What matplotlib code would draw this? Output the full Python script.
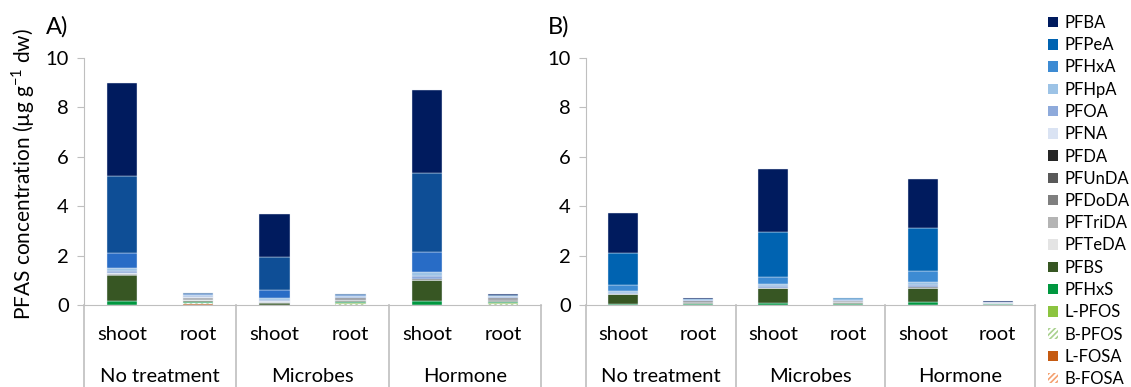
import matplotlib
matplotlib.use("Agg")
import matplotlib.pyplot as plt
import matplotlib.patches as mpatches
import numpy as np

plt.rcParams['font.family'] = ['Lato', 'DejaVu Sans']
plt.rcParams['mathtext.fontset'] = 'custom'
plt.rcParams['mathtext.rm'] = 'Lato'
plt.rcParams['hatch.linewidth'] = 1.2

# bar order: No treatment shoot/root, Microbes shoot/root, Hormone shoot/root
groups = ["No treatment", "Microbes", "Hormone"]
tissues = ["shoot", "root"]

# stacking order from bottom to top
compounds = ["B-FOSA", "L-FOSA", "B-PFOS", "L-PFOS", "PFHxS", "PFBS",
             "PFTeDA", "PFTriDA", "PFDoDA", "PFUnDA", "PFDA",
             "PFNA", "PFOA", "PFHpA", "PFHxA", "PFPeA", "PFBA"]

panel_a = {
    "PFBA":    [3.78, 0.03, 1.76, 0.03, 3.36, 0.03],
    "PFPeA":   [3.09, 0.04, 1.33, 0.04, 3.21, 0.04],
    "PFHxA":   [0.64, 0.04, 0.34, 0.03, 0.82, 0.03],
    "PFHpA":   [0.12, 0.03, 0.06, 0.03, 0.15, 0.03],
    "PFOA":    [0.08, 0.04, 0.06, 0.03, 0.12, 0.03],
    "PFNA":    [0.02, 0.02, 0.01, 0.02, 0.02, 0.02],
    "PFDA":    [0.01, 0.03, 0.01, 0.03, 0.01, 0.03],
    "PFUnDA":  [0.01, 0.03, 0.01, 0.03, 0.01, 0.03],
    "PFDoDA":  [0.01, 0.03, 0.01, 0.03, 0.01, 0.03],
    "PFTriDA": [0.01, 0.02, 0.01, 0.02, 0.01, 0.02],
    "PFTeDA":  [0.00, 0.01, 0.00, 0.01, 0.00, 0.01],
    "PFBS":    [1.07, 0.04, 0.08, 0.04, 0.85, 0.04],
    "PFHxS":   [0.14, 0.04, 0.02, 0.05, 0.14, 0.04],
    "L-PFOS":  [0.01, 0.03, 0.00, 0.03, 0.01, 0.03],
    "B-PFOS":  [0.00, 0.02, 0.00, 0.02, 0.00, 0.02],
    "L-FOSA":  [0.00, 0.03, 0.00, 0.01, 0.00, 0.01],
    "B-FOSA":  [0.00, 0.02, 0.00, 0.01, 0.00, 0.01],
}

panel_b = {
    "PFBA":    [1.62, 0.02, 2.53, 0.02, 1.99, 0.01],
    "PFPeA":   [1.32, 0.03, 1.84, 0.03, 1.73, 0.01],
    "PFHxA":   [0.23, 0.02, 0.29, 0.03, 0.44, 0.01],
    "PFHpA":   [0.06, 0.02, 0.08, 0.02, 0.12, 0.01],
    "PFOA":    [0.04, 0.02, 0.05, 0.02, 0.08, 0.01],
    "PFNA":    [0.01, 0.01, 0.01, 0.01, 0.03, 0.00],
    "PFDA":    [0.01, 0.02, 0.01, 0.02, 0.01, 0.01],
    "PFUnDA":  [0.00, 0.02, 0.01, 0.02, 0.01, 0.01],
    "PFDoDA":  [0.00, 0.02, 0.00, 0.02, 0.01, 0.01],
    "PFTriDA": [0.00, 0.01, 0.00, 0.02, 0.00, 0.01],
    "PFTeDA":  [0.00, 0.01, 0.00, 0.01, 0.00, 0.00],
    "PFBS":    [0.38, 0.03, 0.57, 0.03, 0.55, 0.02],
    "PFHxS":   [0.06, 0.03, 0.10, 0.03, 0.13, 0.03],
    "L-PFOS":  [0.00, 0.01, 0.00, 0.01, 0.00, 0.01],
    "B-PFOS":  [0.00, 0.01, 0.00, 0.01, 0.00, 0.00],
    "L-FOSA":  [0.00, 0.00, 0.00, 0.00, 0.00, 0.00],
    "B-FOSA":  [0.00, 0.00, 0.00, 0.00, 0.00, 0.00],
}

colors = {
    "PFBA": "#001b5e", "PFPeA": "#0063b1", "PFHxA": "#3d8bd3",
    "PFHpA": "#9dc3e6", "PFOA": "#8eaadb", "PFNA": "#dae3f3",
    "PFDA": "#262626", "PFUnDA": "#595959", "PFDoDA": "#7f7f7f",
    "PFTriDA": "#b4b4b4", "PFTeDA": "#e4e4e4", "PFBS": "#375623",
    "PFHxS": "#00973f", "L-PFOS": "#8cc440", "B-PFOS": "#a9d18e",
    "L-FOSA": "#c55a11", "B-FOSA": "#f4a070",
}
# panel A renders the two middle blues a bit darker
colors_a = dict(colors, PFPeA="#0e4e96", PFHxA="#286cc6")
hatched = {"B-PFOS", "B-FOSA"}

W, H = 1131, 387
fig = plt.figure(figsize=(W / 100, H / 100), dpi=100)

axis_col = "#bfbfbf"
fs = 14.5


def draw_panel(left_px, right_px, data, cols, letter):
    top_px, bot_px = 58, 305
    ax = fig.add_axes([left_px / W, (H - bot_px) / H,
                       (right_px - left_px) / W, (bot_px - top_px) / H])
    x = np.arange(6) + 0.5
    bottom = np.zeros(6)
    for c in compounds:
        vals = np.array(data[c])
        if c in hatched:
            ax.bar(x, vals, 0.4, bottom=bottom, facecolor="white",
                   edgecolor=cols[c], hatch="//////", linewidth=0)
        else:
            ax.bar(x, vals, 0.4, bottom=bottom, color=cols[c],
                   edgecolor="#e8eef6", linewidth=0.3)
        bottom += vals
    ax.set_xlim(0, 6)
    ax.set_ylim(0, 10)
    ax.set_yticks([0, 2, 4, 6, 8, 10])
    ax.tick_params(axis="y", length=5, color=axis_col, labelsize=fs,
                   pad=6, labelcolor="black")
    ax.tick_params(axis="x", length=0, labelbottom=False)
    for s in ["top", "right"]:
        ax.spines[s].set_visible(False)
    ax.spines["left"].set_color(axis_col)
    ax.spines["bottom"].set_color(axis_col)

    trans = ax.get_xaxis_transform()
    low = -(H - bot_px) / (bot_px - top_px)
    for b in [0, 2, 4, 6]:
        ax.plot([b, b], [0, low], color=axis_col, lw=1.2,
                transform=trans, clip_on=False)
    shoot_y = -(334 - bot_px) / (bot_px - top_px)
    group_y = -(376 - bot_px) / (bot_px - top_px)
    for i, g in enumerate(groups):
        for j, t in enumerate(tissues):
            ax.text(2 * i + j + 0.5, shoot_y, t, transform=trans,
                    ha="center", va="center", fontsize=fs)
        ax.text(2 * i + 1, group_y, g, transform=trans,
                ha="center", va="center", fontsize=fs)
    fig.text((left_px - 38) / W, 1 - 27 / H, letter, fontsize=17,
             ha="left", va="center")
    return ax


ax1 = draw_panel(84, 541, panel_a, colors_a, "A)")
fig.text(23 / W, 1 - 174 / H,
         "PFAS concentration (µg g$^{\\mathregular{-1}}$ dw)",
         fontsize=15, rotation=90, ha="center", va="center")
ax2 = draw_panel(586, 1035, panel_b, colors, "B)")

handles = []
for c in reversed(compounds):
    if c in hatched:
        handles.append(mpatches.Patch(facecolor="white", edgecolor=colors[c],
                                      hatch="//////", linewidth=0, label=c))
    else:
        handles.append(mpatches.Patch(facecolor=colors[c], label=c))
fig.legend(handles=handles, loc="upper left",
           bbox_to_anchor=(1048 / W, 1 - 15 / H), frameon=False,
           fontsize=12, handlelength=0.6, handleheight=0.6,
           handletextpad=0.4, labelspacing=0.375, borderpad=0,
           borderaxespad=0)

fig.savefig("out.png", dpi=100)
